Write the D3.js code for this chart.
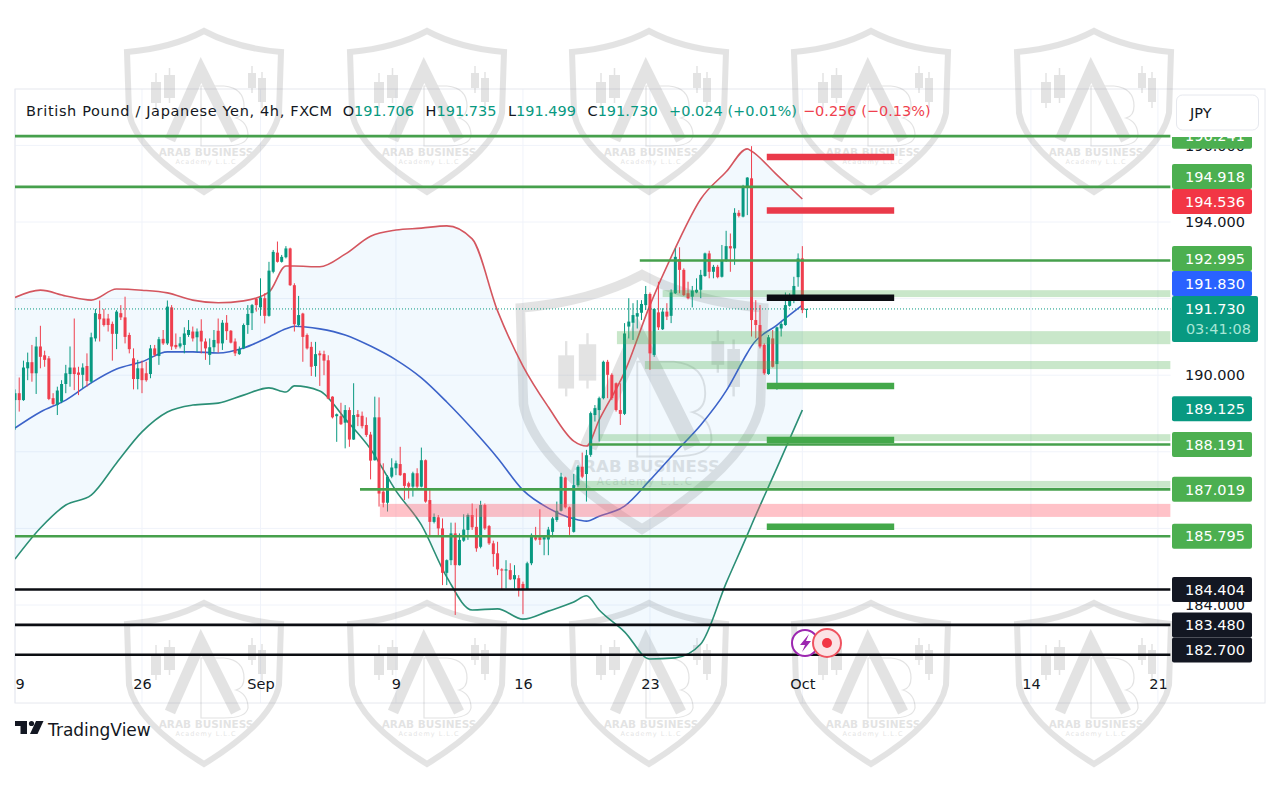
<!DOCTYPE html>
<html>
<head>
<meta charset="utf-8">
<script src="https://cdn.jsdelivr.net/npm/d3@7"></script>
<style>
    html, body { margin: 0; padding: 0; background: #fff; }
    text { font-family: "DejaVu Sans", sans-serif; }
    .axis text { font-size: 14.5px; fill: #131722; font-family: "DejaVu Sans", sans-serif; }
    .axis path, .axis line { display: none; }
</style>
</head>
<body>
<svg id="chart" width="1280" height="803"></svg>
<script>
// open, high, low, close per 4h bar
const ohlc = [
    [189.35,189.63,188.57,189.53],[189.53,189.94,189.05,189.35],[189.35,190.38,189.33,190.20],[190.18,190.59,189.87,190.34],
    [190.34,190.79,189.83,190.05],[190.05,191.00,189.51,190.75],[190.75,191.29,190.18,190.48],[190.52,190.64,190.22,190.40],
    [190.44,190.50,189.35,189.38],[189.40,189.53,189.22,189.25],[189.22,189.70,188.96,189.60],[189.31,189.87,189.27,189.77],
    [189.77,190.27,189.53,190.05],[190.03,190.75,189.70,190.20],[190.20,191.48,189.61,190.03],[190.07,190.22,189.48,190.01],
    [190.01,190.31,189.66,190.20],[190.24,190.57,189.70,189.85],[189.83,191.11,189.79,190.99],[190.96,191.73,190.88,191.62],
    [191.60,191.95,190.88,191.46],[191.48,191.73,191.27,191.31],[191.48,191.60,191.14,191.31],[191.34,191.40,190.38,191.08],
    [191.08,191.70,190.68,191.66],[191.62,191.83,191.44,191.51],[191.51,192.05,190.83,191.00],[191.05,191.11,190.57,190.68],
    [190.44,190.70,189.63,189.90],[189.90,190.40,189.63,190.18],[190.18,190.38,189.53,189.87],[190.05,190.35,189.83,189.87],
    [190.03,190.79,189.92,190.70],[190.70,190.79,190.48,190.53],[190.50,191.00,190.27,190.94],[190.95,191.18,190.79,190.83],
    [190.83,191.95,190.79,191.79],[191.77,191.83,190.66,190.75],[190.79,191.09,190.68,190.73],[190.75,191.00,190.70,190.83],
    [190.79,191.25,190.57,191.09],[191.05,191.44,191.00,191.18],[191.14,191.27,190.88,190.96],[190.99,191.22,190.61,191.14],
    [191.16,191.46,190.57,190.88],[190.88,190.96,190.40,190.70],[190.53,190.96,190.27,190.73],[190.73,191.18,190.61,190.92],
    [191.16,191.48,190.59,190.83],[190.83,191.44,190.66,191.37],[191.37,191.57,190.92,191.15],[191.16,191.18,190.83,190.85],
    [190.88,190.96,190.50,190.57],[190.55,190.75,190.53,190.68],[190.70,191.35,190.68,191.31],[191.31,191.83,191.08,191.60],
    [191.62,191.86,191.18,191.83],[191.99,192.01,191.66,191.83],[191.77,192.53,191.55,192.03],[192.01,192.14,191.35,191.55],
    [191.55,192.96,191.53,192.73],[192.70,193.27,192.66,193.22],[193.20,193.49,192.94,192.96],[192.96,193.14,192.94,193.09],
    [193.08,193.37,193.05,193.31],[193.31,193.33,192.33,192.35],[192.35,192.40,191.14,191.33],[191.31,192.07,191.27,191.57],
    [191.61,191.63,190.35,191.00],[191.05,191.09,190.67,190.70],[190.74,190.87,189.98,190.22],[190.24,190.87,189.96,190.55],
    [190.57,190.64,189.72,190.52],[190.55,190.64,190.00,190.38],[190.39,190.52,189.37,189.39],[189.44,189.45,188.87,188.90],
    [188.93,189.00,188.26,188.98],[188.93,189.28,188.70,188.72],[188.76,189.22,188.09,189.09],[189.09,189.16,188.13,188.32],
    [188.32,189.79,188.31,188.96],[188.98,189.09,188.67,188.91],[188.94,189.05,188.61,188.67],[188.70,188.90,188.39,188.44],
    [188.45,188.52,187.28,187.77],[187.78,189.44,187.77,188.90],[188.90,189.42,186.57,186.91],[186.96,187.70,186.55,186.67],
    [186.67,187.39,186.44,187.35],[187.35,187.83,187.31,187.59],[187.57,187.77,187.39,187.70],[187.68,188.13,187.37,187.39],
    [187.44,187.45,186.74,187.11],[187.18,187.22,186.78,187.09],[187.09,187.48,186.83,187.44],[187.44,187.57,187.04,187.09],
    [187.09,188.11,187.07,187.78],[187.78,187.80,186.67,186.70],[186.74,187.04,185.78,186.17],[186.17,186.39,186.13,186.30],
    [186.29,186.35,185.78,186.00],[186.00,186.26,184.52,184.84],[184.84,185.19,184.52,185.17],[185.17,186.15,185.04,185.87],
    [185.87,186.15,183.74,185.04],[185.04,185.87,185.03,185.70],[185.68,186.37,185.65,185.97],[185.96,186.39,185.70,186.35],
    [186.35,186.65,185.96,186.03],[186.04,186.52,185.39,185.48],[185.52,186.72,185.48,186.61],[186.61,186.65,185.96,186.00],
    [186.06,186.09,185.57,185.61],[185.61,185.68,185.00,185.33],[185.35,185.65,184.78,184.93],[184.93,184.96,184.41,184.90],
    [184.90,185.17,184.43,184.93],[184.91,185.09,184.65,184.67],[184.67,185.04,184.43,184.78],[184.70,184.78,184.22,184.43],
    [184.55,184.61,183.76,184.39],[184.41,185.13,184.39,185.09],[185.09,185.87,185.04,185.83],[185.77,186.04,185.68,185.71],
    [185.77,186.50,185.57,185.70],[185.71,185.78,185.30,185.77],[185.71,186.04,185.30,185.97],[185.91,186.30,185.77,186.26],
    [186.22,186.70,186.17,186.46],[186.46,187.45,186.44,187.35],[187.33,187.35,186.52,186.55],[186.55,186.57,185.83,186.04],
    [185.91,187.42,185.89,187.13],[187.13,187.65,187.09,187.61],[187.61,187.98,187.31,187.35],[187.42,188.05,186.70,187.91],
    [187.92,189.05,187.87,189.01],[188.96,189.22,188.79,189.14],[189.09,189.44,188.27,189.40],[189.40,190.38,189.37,190.35],
    [190.35,190.40,189.40,190.01],[190.01,190.05,189.35,189.40],[189.79,189.81,189.05,189.09],[189.09,189.79,188.70,188.99],
    [188.99,191.36,188.96,191.09],[191.27,192.01,190.96,191.40],[191.37,191.88,190.92,191.57],[191.53,191.96,191.22,191.62],
    [191.63,191.96,191.44,191.86],[191.83,192.33,191.70,192.12],[192.12,192.16,190.14,190.57],[190.53,191.75,190.48,191.73],
    [191.64,192.44,191.18,191.25],[191.20,191.75,191.18,191.66],[191.66,191.88,191.44,191.53],[191.55,192.24,191.36,192.16],
    [192.14,193.31,192.12,193.09],[193.03,193.34,192.14,192.75],[192.75,192.79,192.07,192.09],[192.14,192.44,191.98,192.01],
    [192.05,192.33,191.77,192.21],[192.16,192.53,192.14,192.23],[192.23,192.75,192.01,192.62],[192.59,193.20,192.57,193.18],
    [193.18,193.25,192.53,192.70],[192.70,192.88,192.53,192.83],[192.83,192.88,192.53,192.56],[192.57,193.40,192.55,193.01],
    [192.99,193.77,192.96,193.37],[193.37,193.70,192.70,193.31],[193.31,194.36,192.88,194.24],[194.24,194.31,194.12,194.16],
    [194.14,194.97,194.12,194.92],[194.92,195.17,194.18,195.16],[195.14,195.98,191.01,191.44],[191.44,191.96,190.96,191.31],
    [191.31,191.83,190.70,190.75],[190.79,190.83,190.01,190.05],[190.03,191.05,190.01,190.99],[190.96,191.18,190.20,190.22],
    [190.29,191.27,189.62,191.25],[191.22,191.40,191.01,191.34],[191.31,192.16,191.29,191.83],[191.81,192.14,191.79,192.01],
    [191.96,192.57,191.88,192.33],[192.56,193.18,192.31,193.05],[193.05,193.37,191.62,191.70],[191.706,191.735,191.499,191.730]
];

// bollinger bands, read at these bar numbers
const bandBars = [0,6,12,18,24,30,36,42,48,54,60,64,66,72,78,84,90,96,102,108,114,120,126,132,135,138,144,150,156,162,168,173,174,180,186];
const upperBand = [192.03,192.22,192.07,191.96,192.25,192.22,192.15,191.96,191.89,191.94,192.17,192.85,192.85,192.83,193.16,193.63,193.79,193.84,193.90,193.56,191.68,190.24,189.17,188.28,188.15,188.83,190.08,191.83,193.32,194.60,195.31,195.91,195.85,195.23,194.60];
const basisBand = [188.62,189.04,189.35,189.80,190.16,190.35,190.61,190.61,190.58,190.71,191.00,191.21,191.28,191.21,191.05,190.76,190.40,189.93,189.30,188.60,187.84,187.00,186.53,186.25,186.19,186.32,186.58,187.26,187.99,188.70,189.59,190.58,190.76,191.31,191.83];
const lowerBand = [185.20,186.01,186.61,186.87,187.71,188.52,189.04,189.22,189.27,189.48,189.67,189.56,189.72,189.59,188.86,188.07,186.98,186.09,184.73,183.87,183.90,183.63,183.84,184.08,184.24,183.87,183.30,182.59,182.62,182.98,184.57,185.83,186.09,187.58,189.09];

// horizontal levels: price and the bar they start from
const greenLevels = [196.241, 194.918, 192.995, 188.191, 187.019, 185.795];
const greenLevelStarts = [0, 0, 147.6, 135.8, 81.5, 0];
const blackLevels = [184.404, 183.480, 182.700];

// shaded zones running to the right edge
const greenZoneTops = [192.22, 191.15, 190.37, 188.46, 187.24];
const greenZoneBottoms = [192.04, 190.81, 190.16, 188.28, 187.06];
const greenZoneStarts = [153, 142.2, 148.8, 138, 132.8];
const pinkZone = [186.64, 186.30, 86.2];

// short target marks to the right of the last bar
const targetBars = [177.6, 207.7];
const redTargets = [195.70, 194.30];
const blackTargets = [192.02];
const greenTargets = [189.72, 188.31, 186.04];

// price axis and time axis
const priceTicks = [196, 194, 192, 190, 188, 186, 184];
const timeTickBars = [0, 30, 58, 90, 120, 150, 186, 240, 270];
const timeTickLabels = ["19", "26", "Sep", "9", "16", "23", "Oct", "14", "21"];

// labels on the price axis
const badgePrices = [196.241, 194.918, 194.536, 192.995, 191.830, 191.730, 189.125, 188.191, 187.019, 185.795, 184.404, 183.480, 182.700];
const badgeKinds = ["level", "level", "high", "level", "basis", "last", "teal", "level", "level", "level", "black", "black", "black"];

const legendTitle = "British Pound / Japanese Yen, 4h, FXCM";
const legendLabels = ["O", "H", "L", "C"];
const legendValues = ["191.706", "191.735", "191.499", "191.730"];
const legendChange = "+0.024 (+0.01%)";
const legendDayChange = "\u22120.256 (\u22120.13%)";
const countdown = "03:41:08";

const markColumns = [204, 427, 649, 871, 1094];
const markRows = [28, 600];

const up = "#089981", down = "#ef3f4e", levelGreen = "#46a04c", ink = "#131722";
const paneLeft = 15, paneRight = 1170.6, paneTop = 89, paneBottom = 703;

const svg = d3.select("#chart");
const x = d3.scaleLinear().domain([0, 273]).range([paneLeft, paneRight]);
const y = d3.scaleLinear().domain([194, 184]).range([222, 605]);

const defs = svg.append("defs");
defs.append("clipPath").attr("id", "pane")
    .append("rect").attr("x", paneLeft).attr("y", paneTop).attr("width", paneRight - paneLeft).attr("height", paneBottom - paneTop);
defs.append("clipPath").attr("id", "scale")
    .append("rect").attr("x", paneRight).attr("y", 137).attr("width", 100).attr("height", 560);

// frame and grid
const grid = svg.append("g");
grid.selectAll("line.h").data(priceTicks).join("line")
    .attr("class", "h")
    .attr("x1", paneLeft).attr("x2", paneRight)
    .attr("y1", d => y(d)).attr("y2", d => y(d))
    .attr("stroke", "#f0f3fa");
grid.selectAll("line.v").data(timeTickBars).join("line")
    .attr("class", "v")
    .attr("x1", d => x(d)).attr("x2", d => x(d))
    .attr("y1", paneTop).attr("y2", paneBottom)
    .attr("stroke", "#f0f3fa");
svg.append("rect")
    .attr("x", paneLeft).attr("y", paneTop)
    .attr("width", 1265 - paneLeft).attr("height", paneBottom - paneTop)
    .attr("fill", "none")
    .attr("stroke", "#e6e8ee");

// academy watermark, sits under the chart
function drawMark(apexX, apexY, scale) {
    const mark = svg.append("g")
        .attr("transform", `translate(${apexX},${apexY}) scale(${scale})`)
        .attr("opacity", 0.2)
        .style("pointer-events", "none");
    mark.append("path")
        .attr("d", "M0,3Q32,20 77,24L75,85Q68,122 0,164Q-68,122 -75,85L-77,24Q-32,20 0,3Z")
        .attr("fill", "none")
        .attr("stroke", "#777")
        .attr("stroke-width", 6);
    mark.append("path")
        .attr("d", "M-34,112L-3,42L32,112")
        .attr("fill", "none")
        .attr("stroke", "#777")
        .attr("stroke-width", 11);
    mark.append("path")
        .attr("d", "M-3,58H20Q40,60 40,78Q40,88 32,90Q44,94 44,108Q42,118 20,118H-3Z")
        .attr("fill", "none")
        .attr("stroke", "#777")
        .attr("stroke-width", 1.2);
    [[-53, 54, 10, 21, 45, 80], [-40, 47, 11, 23, 40, 75], [44, 45, 8, 15, 38, 65], [54, 50, 8, 24, 44, 80]].forEach(c => {
        mark.append("rect").attr("x", c[0]).attr("y", c[1]).attr("width", c[2]).attr("height", c[3]).attr("fill", "#777");
        mark.append("line")
            .attr("x1", c[0] + c[2] / 2).attr("x2", c[0] + c[2] / 2)
            .attr("y1", c[4]).attr("y2", c[5])
            .attr("stroke", "#777").attr("stroke-width", 1.5);
    });
    mark.append("text")
        .attr("x", 2).attr("y", 128)
        .attr("text-anchor", "middle")
        .attr("font-size", 10.5)
        .attr("font-weight", "bold")
        .attr("font-family", "Roboto, sans-serif")
        .attr("fill", "#777")
        .text("ARAB BUSINESS");
    mark.append("text")
        .attr("x", 2).attr("y", 136)
        .attr("text-anchor", "middle")
        .attr("font-size", 6.5)
        .attr("letter-spacing", 1)
        .attr("font-family", "Roboto, sans-serif")
        .attr("fill", "#777")
        .text("Academy L.L.C");
}
markRows.forEach(row => markColumns.forEach(col => drawMark(col, row, 1)));
drawMark(642, 270, 1.58);

const pane = svg.append("g").attr("clip-path", "url(#pane)");

// band fill and lines
const bandIndex = d3.range(bandBars.length);
pane.append("path")
    .datum(bandIndex)
    .attr("fill", "#2196f3")
    .attr("fill-opacity", 0.06)
    .attr("d", d3.area()
        .x(i => x(bandBars[i]))
        .y0(i => y(lowerBand[i]))
        .y1(i => y(upperBand[i]))
        .curve(d3.curveMonotoneX));

function drawBand(values, colour) {
    pane.append("path")
        .datum(bandIndex)
        .attr("fill", "none")
        .attr("stroke", colour)
        .attr("stroke-width", 1.6)
        .attr("d", d3.line()
            .x(i => x(bandBars[i]))
            .y(i => y(values[i]))
            .curve(d3.curveMonotoneX));
}
drawBand(upperBand, "#d4565f");
drawBand(lowerBand, "#2b8f76");
drawBand(basisBand, "#3c63c9");

// candles
const candles = pane.selectAll(".candle").data(ohlc).join("g").attr("class", "candle");
candles.append("line")
    .attr("x1", (d, i) => x(i)).attr("x2", (d, i) => x(i))
    .attr("y1", d => y(d[1])).attr("y2", d => y(d[2]))
    .attr("stroke", d => d[3] >= d[0] ? up : down)
    .attr("stroke-width", 1);
candles.append("rect")
    .attr("x", (d, i) => x(i) - 1.5)
    .attr("width", 3)
    .attr("y", d => y(Math.max(d[0], d[3])))
    .attr("height", d => Math.max(1, Math.abs(y(d[0]) - y(d[3]))))
    .attr("fill", d => d[3] >= d[0] ? up : down);

// zones
pane.selectAll(".zone").data(greenZoneTops).join("rect")
    .attr("class", "zone")
    .attr("x", (d, i) => x(greenZoneStarts[i]))
    .attr("width", (d, i) => paneRight - x(greenZoneStarts[i]))
    .attr("y", d => y(d))
    .attr("height", (d, i) => y(greenZoneBottoms[i]) - y(d))
    .attr("fill", "#4caf50")
    .attr("fill-opacity", 0.3);
pane.append("rect")
    .attr("x", x(pinkZone[2]))
    .attr("width", paneRight - x(pinkZone[2]))
    .attr("y", y(pinkZone[0]))
    .attr("height", y(pinkZone[1]) - y(pinkZone[0]))
    .attr("fill", "#ff5f6f")
    .attr("fill-opacity", 0.38);

// levels
pane.selectAll(".green-level").data(greenLevels).join("line")
    .attr("class", "green-level")
    .attr("x1", (d, i) => x(greenLevelStarts[i])).attr("x2", paneRight)
    .attr("y1", d => y(d)).attr("y2", d => y(d))
    .attr("stroke", levelGreen)
    .attr("stroke-width", 2.6);
pane.selectAll(".black-level").data(blackLevels).join("line")
    .attr("class", "black-level")
    .attr("x1", paneLeft).attr("x2", paneRight)
    .attr("y1", d => y(d)).attr("y2", d => y(d))
    .attr("stroke", "#0b0d12")
    .attr("stroke-width", 2.6);

// target marks
function drawTargets(values, colour) {
    svg.append("g").selectAll("line").data(values).join("line")
        .attr("x1", x(targetBars[0])).attr("x2", x(targetBars[1]))
        .attr("y1", d => y(d)).attr("y2", d => y(d))
        .attr("stroke", colour)
        .attr("stroke-width", 6.5);
}
drawTargets(redTargets, "#ea3a4a");
drawTargets(blackTargets, "#0b0d12");
drawTargets(greenTargets, "#43a84a");

// last price line
pane.append("line")
    .attr("x1", paneLeft).attr("x2", paneRight)
    .attr("y1", y(191.73)).attr("y2", y(191.73))
    .attr("stroke", up)
    .attr("stroke-width", 1)
    .attr("stroke-dasharray", "1 2");

// axes
const yAxis = d3.axisRight(y).tickValues(priceTicks).tickSize(0).tickPadding(0).tickFormat(d3.format(".3f"));
svg.append("g").attr("class", "axis")
    .attr("transform", "translate(1185,0)")
    .call(yAxis);

const timeAxis = svg.append("g").attr("clip-path", "url(#pane)");
const xAxis = d3.axisBottom(x)
    .tickValues(timeTickBars)
    .tickSize(0)
    .tickPadding(0)
    .tickFormat((d, i) => timeTickLabels[i]);
timeAxis.append("g").attr("class", "axis")
    .attr("transform", "translate(0,679)")
    .call(xAxis);

// axis badges, pushed upwards where they would overlap
const badgeColours = { level: "#4caf50", high: "#f23645", basis: "#2962ff", last: "#089981", teal: "#089981", black: "#131722" };
const badgeHeight = 25;
const badges = badgePrices.map((price, i) => ({ price: price, kind: badgeKinds[i], centre: y(price) }));
badges[badges.length - 1].centre = Math.min(badges[badges.length - 1].centre, 650);
for (let i = badges.length - 2; i >= 0; i--) {
    const below = badges[i + 1];
    const belowTop = below.kind === "last" ? below.centre - 13 : below.centre - badgeHeight / 2;
    if (badges[i].centre + badgeHeight / 2 > belowTop) {
        badges[i].centre = belowTop - badgeHeight / 2;
    }
}

const badgeLayer = svg.append("g").attr("clip-path", "url(#scale)");
badges.forEach(b => {
    const last = b.kind === "last";
    badgeLayer.append("rect")
        .attr("x", 1172)
        .attr("y", last ? b.centre - 13 : b.centre - badgeHeight / 2)
        .attr("width", last ? 86 : 80)
        .attr("height", last ? 46 : badgeHeight)
        .attr("rx", 2)
        .attr("fill", badgeColours[b.kind]);
    badgeLayer.append("text")
        .attr("x", 1245)
        .attr("y", b.centre)
        .attr("dy", "0.36em")
        .attr("text-anchor", "end")
        .attr("font-size", 14.5)
        .attr("fill", "#fff")
        .text(b.price.toFixed(3));
    if (last) {
        badgeLayer.append("text")
            .attr("x", 1251)
            .attr("y", b.centre + 20)
            .attr("dy", "0.36em")
            .attr("text-anchor", "end")
            .attr("font-size", 14.5)
            .attr("fill", "#a8e6d6")
            .text(countdown);
    }
});

// currency button
svg.append("rect")
    .attr("x", 1176.5).attr("y", 95)
    .attr("width", 82).attr("height", 35)
    .attr("rx", 6)
    .attr("fill", "#fff")
    .attr("stroke", "#e6e8ee");
svg.append("text")
    .attr("x", 1190).attr("y", 118)
    .attr("font-size", 14.5)
    .attr("fill", ink)
    .text("JPY");

// legend, laid out left to right
let legendX = 26;
function legendText(str, colour, gap, spacing) {
    const t = svg.append("text")
        .attr("x", legendX).attr("y", 116)
        .attr("font-size", 14.5)
        .attr("letter-spacing", spacing || 0)
        .attr("fill", colour)
        .text(str);
    legendX += t.node().getComputedTextLength() + gap;
}
legendText(legendTitle, ink, 10, 0.65);
legendLabels.forEach((label, i) => {
    legendText(label, ink, 0);
    legendText(legendValues[i], up, 11.5);
});
legendText(legendChange, up, 6);
legendText(legendDayChange, down, 0);

// trading view logo and name
const logo = svg.append("g").attr("fill", ink);
logo.append("path").attr("d", "M15,721H27V734H20.5V726H15Z");
logo.append("circle").attr("cx", 31.5).attr("cy", 723.5).attr("r", 2.6);
logo.append("path").attr("d", "M36,721H43.5L37.5,734H30Z");
svg.append("text")
    .attr("x", 48).attr("y", 736)
    .attr("font-size", 17)
    .attr("font-family", "'Open Sans', sans-serif")
    .attr("fill", ink)
    .text("TradingView");

// event icons
svg.append("circle").attr("cx", 805).attr("cy", 643).attr("r", 13)
    .attr("fill", "#fff").attr("stroke", "#9c27b0").attr("stroke-width", 2);
svg.append("path").attr("d", "M809,634L800,645H805L802,652L811,641H806Z").attr("fill", "#9c27b0");
svg.append("circle").attr("cx", 827).attr("cy", 643).attr("r", 14)
    .attr("fill", "#fbe4e6").attr("stroke", "#ef5360").attr("stroke-width", 2);
svg.append("circle").attr("cx", 827).attr("cy", 643).attr("r", 5).attr("fill", "#f23645");
</script>
</body>
</html>
